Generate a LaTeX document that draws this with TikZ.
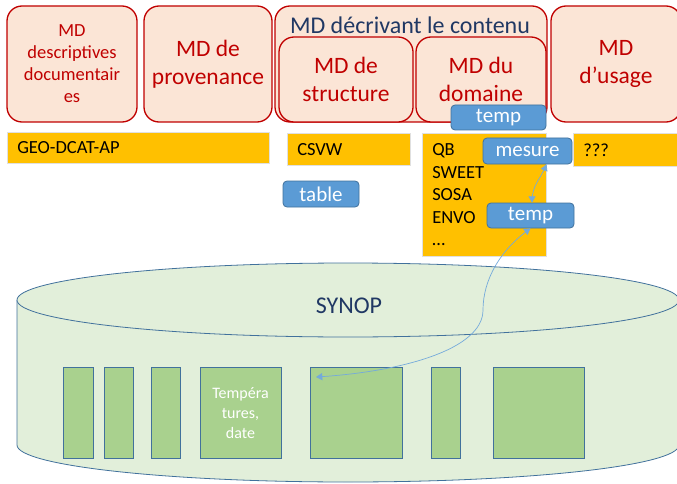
\documentclass[tikz,border=0pt]{standalone}
\usepackage{fontspec}
\setmainfont{Carlito}
\usepackage{tikz}
\usetikzlibrary{arrows}
\definecolor{mdred}{RGB}{192,0,0}
\definecolor{mdpink}{RGB}{251,229,214}
\definecolor{mdnavy}{RGB}{32,56,100}
\definecolor{mdyellow}{RGB}{255,192,0}
\definecolor{mdblue}{RGB}{91,155,213}
\definecolor{mdblueline}{RGB}{65,113,156}
\definecolor{synfill}{RGB}{226,239,218}
\definecolor{colfill}{RGB}{169,209,142}

\begin{document}
\begin{tikzpicture}[x=1pt,y=-1pt,
  every node/.style={inner sep=0pt,align=center},
  mdbox/.style={draw=mdred,line width=1.3pt,fill=mdpink,rounded corners=15pt,text=mdred,font=\fontsize{23.5}{28.5}\selectfont},
  ybox/.style={fill=mdyellow,draw=black!12,line width=0.5pt,anchor=north west,inner xsep=10pt,align=left,font=\fontsize{18.5}{22.5}\selectfont},
  bbox/.style={fill=mdblue,draw=mdblueline,line width=0.8pt,rounded corners=4pt,text=white,font=\fontsize{21}{22}\selectfont},
  col/.style={fill=colfill,draw=mdblueline,line width=0.8pt},
  cyl/.style={fill=synfill,draw=mdblueline,line width=0.8pt},
  link/.style={draw=mdblue!85,line width=0.7pt,triangle 60-triangle 60}]
  \useasboundingbox (0,0) rectangle (677,484);

  % base de donnees
  \draw[cyl] (17,300) -- (17,445) arc[start angle=180,end angle=0,x radius=331,y radius=37] -- (679,300);
  \draw[cyl] (348,300) ellipse[x radius=331,y radius=37];
  \node[text=mdnavy,font=\fontsize{24}{26}\selectfont] (synop) at (349,306) {SYNOP};

  \node[col,minimum width=30pt,minimum height=91pt] (c1) at (78,413) {};
  \node[col,minimum width=29pt,minimum height=91pt] (c2) at (118.5,413) {};
  \node[col,minimum width=29pt,minimum height=91pt] (c3) at (165.5,413) {};
  \node[col,minimum width=81pt,minimum height=91pt,text=white,font=\fontsize{16}{20}\selectfont] (c4) at (240.5,413) {Tempéra\\tures,\\date};
  \node[col,minimum width=92pt,minimum height=91pt] (c5) at (356,413) {};
  \node[col,minimum width=29pt,minimum height=91pt] (c6) at (445.5,413) {};
  \node[col,minimum width=91pt,minimum height=91pt] (c7) at (538.5,413) {};

  % metadonnees
  \node[mdbox,minimum width=130pt,minimum height=116pt,font=\fontsize{18.5}{22}\selectfont] (desc) at (72,64) {MD\\descriptives\\documentair\\es};
  \node[mdbox,minimum width=128pt,minimum height=116pt] (prov) at (208,64) {MD de\\provenance};
  \node[mdbox,minimum width=272pt,minimum height=116pt] (cont) at (411,64) {};
  \node[text=mdnavy,font=\fontsize{24}{26}\selectfont] (conttxt) at (410,25) {MD décrivant le contenu};
  \node[mdbox,minimum width=134pt,minimum height=85pt] (struct) at (346,79.5) {MD de\\structure};
  \node[mdbox,minimum width=130pt,minimum height=85pt] (dom) at (481,79.5) {MD du\\domaine};
  \node[mdbox,minimum width=130pt,minimum height=116pt] (usage) at (616,64) {MD\\d’usage};

  % vocabulaires
  \node[ybox,text width=242pt,minimum height=31pt] (geo) at (7,132) {GEO-DCAT-AP};
  \node[ybox,text width=103pt,minimum height=32pt] (csvw) at (287,133) {CSVW};
  \node[ybox,text width=104pt,minimum height=123pt] (voc) at (422,133) {QB\\SWEET\\SOSA\\ENVO\\\dots};
  \node[ybox,text width=90pt,minimum height=33pt] (usg) at (573,133) {???};

  % concepts
  \node[bbox,minimum width=76pt,minimum height=26pt] (table) at (321,194) {table};
  \node[bbox,minimum width=95pt,minimum height=25pt] (tempA) at (498.5,117.5) {temp};
  \node[bbox,minimum width=89pt,minimum height=26pt] (mesure) at (527.5,151) {mesure};
  \node[bbox,minimum width=87pt,minimum height=25pt] (tempB) at (530.5,215.5) {temp};

  \coordinate (cible) at (316,377);
  \draw[link] ([xshift=19pt]mesure.south) .. controls (540,180) and (532,185) .. ([xshift=1.5pt]tempB.north);
  \draw[link] (tempB.south) .. controls (500,250) and (483,280) .. (483,310) .. controls (483,350) and (400,372) .. (cible);
\end{tikzpicture}
\end{document}
